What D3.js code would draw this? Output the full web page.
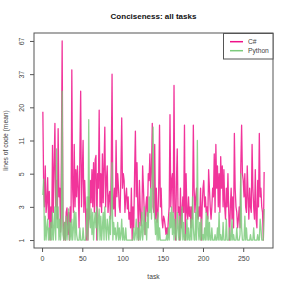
<!DOCTYPE html>
<html><head><meta charset="utf-8">
<script src="https://cdn.jsdelivr.net/npm/d3@7"></script>
<style>html,body{margin:0;padding:0;background:#fff;}svg{display:block;font-family:"Liberation Sans",Arial,sans-serif;}</style>
</head><body><svg id="c" width="291" height="291"></svg>
<script>
const title = "Conciseness: all tasks";
const xLabel = "task";
const yLabel = "lines of code (mean)";
const seriesNames = ["C#", "Python"];
const xTicks = [0, 50, 100, 150, 200, 250];
const yTicks = [1, 3, 5, 11, 20, 37, 67];
const csharp = [
18.5,4.2,3,6,2.5,3.2,4.7,2,3.8,1,
3,1.5,9.8,2.5,6,15,3,4.5,2,13.6,
3.5,4,1.3,7,67,2,1,1.8,1,2.5,
2.9,1.2,2.5,1,3,1.8,40,4,2.5,10,
3,5.5,3.5,6,4,1.5,8,27,3,5,
11,2.5,4.5,3,1,2.8,1,3.5,2,4.5,
3.2,5.5,3,6.5,2.5,7,7.7,1,5,4,
19,3,5,2.5,8,3.2,6,14,3,4.5,
6,2.5,3.5,3.8,2,6,37,3,2.8,4,
2.2,11,3.5,5,4,3,2.5,5,16.5,4,
5,4.5,2.5,3.5,4,2.8,3.5,2,2.5,1.5,
4,1,3,1.5,5,13,3.5,6.5,3,1,
4.5,3,1.6,2,6,4,2.5,1.2,3,3.5,
2.2,5,4.5,8,4,5.5,15,3,2.5,10,
2,4,1.8,2.2,4,14.5,3,4,2,1.5,
2.2,2,1.6,1.2,1.5,1.2,2,3,17.5,3,
4.5,5,2.5,30,2.8,1,4.5,9,2.5,3,
1,4,1.5,2.5,3.5,2.5,14.5,1,5,2.5,
2,3.5,2.2,3,1.5,3,2,14.5,4,2.5,
3.5,4,2.5,2,3,2.2,4,1,3,4,
4.5,3,3.5,2.5,3,2,5.5,4,3,2,
3,4,3.5,8,2.5,10,4,6,3,5,
2.5,7.5,4,6,3,5.5,3,2,4,3,
5,2.5,1,3,4,2,3.5,1.5,12.5,4,
3,2.5,1.5,2,3,1.5,6,14.5,5,4.5,
3.5,5,3,2.5,6,3.5,2,4,3,2.5,
10,4,3,2,5.5,2,1.5,4.5,3,12.5,
3.5,4,3,2.5,1,5.2];
const python = [
3.6,4.6,1,2.2,1,1.5,2,1,1.5,1,
1.8,1,2.5,1,1.5,3,1,9,1.5,3,
1,2,1,1.5,27,1.2,1,1.8,1,2.2,
1,1.5,2.8,1,1.8,1,2,1,1.5,2.6,
1,2.5,1.2,1,1,1,1.5,1,1,1,
1.5,1,1,1,1.2,3.5,1,16,2,1.5,
2.8,1.2,2.5,1,1.8,2.5,1.5,3,1,2,
2.8,1,2.2,1,1.5,2.5,1,3,1.5,1,
2,1.5,1,2.2,1.2,3,6.5,1,1.8,1.2,
1.5,1,1.2,1.8,1,1.5,1,1.2,2,1,
1.5,1,1,1.5,1,1,1,1,1,1,
1,1,1,1.5,1,1.2,2,1,1.5,1,
1.8,1,1.2,2.5,1,1.5,3,1.2,1.8,1,
2.5,1.5,3.5,2.5,4,2,5,14,3,2,
1.2,2,1,2.5,1,1.5,1,1,1,1,
1,1,1,1,1.2,1,1.5,1,2.5,1.5,
3,1.2,2.5,1,2,1.2,1,2.5,1.5,1,
2.2,1,1.5,3,1,1.8,1,1.2,1,2,
1,1.5,1,1,2,1,3.5,1.5,1,1,
2.5,1,11,1.5,1,1.8,1,2,1,1.2,
1,1.5,1,2.5,1,2.2,1,1.8,1,1,
1.5,1,1,1,1.2,1,1,1.5,1,2.5,
1,1.2,1,1,1.8,1,1,1,2,1,
1,1,1.5,1,1,2,1,1.2,1,1,
1,1.5,1,1,1,1.2,5,1.5,1,1,
1,2.2,1,1.5,1,1,1,1,1.2,1,
1,1,1.5,1,1,1,1,1.2,1,1,
2,1.5,1,1,1,2.8];
const colors = ["#EE1289", "#7CCB7C"];

const svg = d3.select("#c");
const L = 34, R = 273, T = 33, B = 248;
const n = csharp.length;
const pad = 0.04 * (n - 1);
const x = d3.scaleLinear().domain([1 - pad, n + pad]).range([L, R]);
const lvPad = 0.04 * (yTicks.length - 1);
const yLevel = d3.scaleLinear().domain([-lvPad, yTicks.length - 1 + lvPad]).range([B, T]);
const y = d3.scaleLog().domain(yTicks).range(yTicks.map((_, i) => yLevel(i)));
const txt = "#444";
const font = "Liberation Sans, Arial, sans-serif";

svg.append("text").attr("x", (L + R) / 2).attr("y", 19).attr("text-anchor", "middle")
  .attr("font-size", 8).attr("font-weight", "bold").attr("fill", "#111").text(title);

const line = d3.line().x((d, i) => x(i + 1)).y(d => y(d));
svg.append("path").datum(csharp).attr("d", line).attr("fill", "none")
  .attr("stroke", colors[0]).attr("stroke-width", 1.3).attr("stroke-opacity", 0.85).attr("stroke-linejoin", "round");
svg.append("path").datum(python).attr("d", line).attr("fill", "none")
  .attr("stroke", colors[1]).attr("stroke-width", 1.3).attr("stroke-opacity", 0.85).attr("stroke-linejoin", "round");

const xAxis = d3.axisBottom(x).tickValues(xTicks).tickSize(4).tickPadding(4);
const gx = svg.append("g").attr("transform", `translate(0,${B})`).call(xAxis);
gx.select(".domain").remove();
gx.selectAll("line").attr("stroke", "#555");
gx.selectAll("text").attr("font-size", 7).attr("fill", txt).attr("font-family", font);

const yAxis = d3.axisLeft(y).tickValues(yTicks).tickFormat(d3.format("d")).tickSize(4).tickPadding(3);
const gy = svg.append("g").attr("transform", `translate(${L},0)`).call(yAxis);
gy.select(".domain").remove();
gy.selectAll("line").attr("stroke", "#555");
gy.selectAll("text").attr("font-size", 7).attr("fill", txt).attr("font-family", font)
  .attr("text-anchor", "middle").attr("dy", null).attr("x", null)
  .attr("transform", `translate(-12,0) rotate(-90)`).attr("y", 0).attr("dominant-baseline", "middle");

svg.append("rect").attr("x", L).attr("y", T).attr("width", R - L).attr("height", B - T)
  .attr("fill", "none").attr("stroke", "#555").attr("stroke-width", 1);

svg.append("text").attr("x", (L + R) / 2).attr("y", 279).attr("text-anchor", "middle")
  .attr("font-size", 6.7).attr("fill", txt).text(xLabel);
svg.append("text").attr("transform", `translate(8,${(T + B) / 2}) rotate(-90)`).attr("text-anchor", "middle")
  .attr("font-size", 6.7).attr("fill", txt).text(yLabel);

const lg = svg.append("g");
lg.append("rect").attr("x", 223.5).attr("y", 33.5).attr("width", 49.5).attr("height", 25.5)
  .attr("fill", "#fff").attr("stroke", "#555");
seriesNames.forEach((s, i) => {
  const yy = 41.7 + i * 9;
  lg.append("line").attr("x1", 230).attr("x2", 243).attr("y1", yy).attr("y2", yy)
    .attr("stroke", colors[i]).attr("stroke-width", 1.5);
  lg.append("text").attr("x", 248).attr("y", yy).attr("dy", "0.35em")
    .attr("font-size", 6.7).attr("fill", txt).text(s);
});
</script></body></html>
